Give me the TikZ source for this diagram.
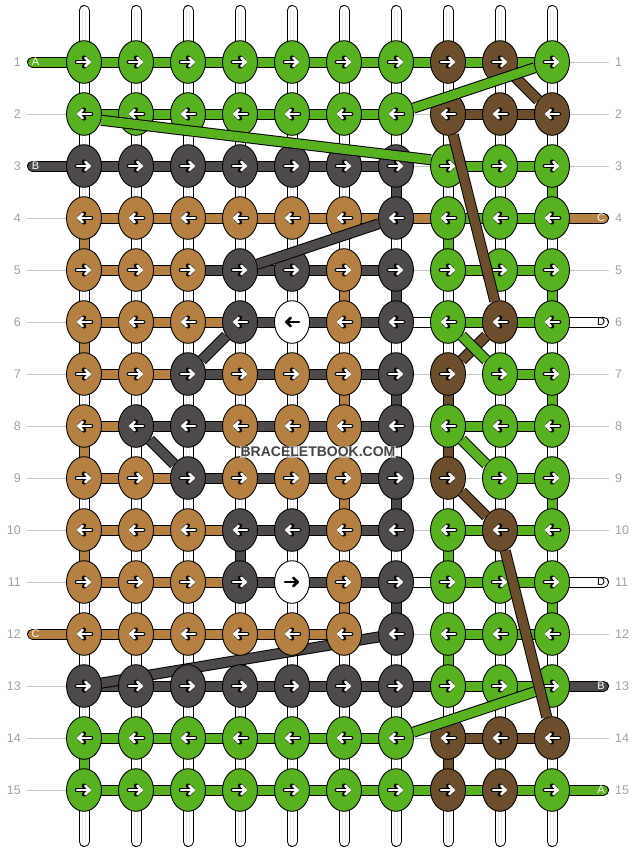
\documentclass[tikz,border=0pt]{standalone}
\usepackage{fontspec}
\setmainfont{Liberation Sans}
\usetikzlibrary{shapes.geometric,arrows.meta}

\definecolor{strG}{HTML}{58B11E}
\definecolor{strB}{HTML}{6C4E2C}
\definecolor{strT}{HTML}{B58142}
\definecolor{strD}{HTML}{4E4A49}
\definecolor{strW}{HTML}{FFFFFF}
\colorlet{arrG}{white}\colorlet{arrB}{white}\colorlet{arrT}{white}\colorlet{arrD}{white}\colorlet{arrW}{black}
\colorlet{rimG}{black}\colorlet{rimB}{black}\colorlet{rimT}{black}\colorlet{rimD}{black}\colorlet{rimW}{white}
\definecolor{guidegray}{HTML}{C4C4C4}
\definecolor{numgray}{HTML}{A0A0A0}
\definecolor{markgray}{HTML}{444444}

\begin{document}
\begin{tikzpicture}[x=1pt, y=-1pt,
  strand/.style={draw=black, line width=1pt, double=#1, double distance=9pt},
  tube/.style={strand=white, line cap=round},
  knot/.style={ellipse, draw, line width=0.9pt, minimum width=35pt, minimum height=42.6pt, inner sep=0pt},
  turn/.style={line cap=round, -{Straight Barb[length=4.5pt, width=8.5pt, round]}},
  guide/.style={draw=guidegray, line width=1pt},
  rownum/.style={text=numgray, inner sep=0pt, font=\fontsize{12.5}{13}\selectfont},
  endlabel/.style={inner sep=0pt, font=\fontsize{11}{11}\selectfont}]

\useasboundingbox (0,0) rectangle (636,852);

\foreach \r in {1,...,15} {
  \foreach \c in {1,...,10}
    \coordinate (p-\r-\c) at ({84+52*(\c-1)}, {62+52*(\r-1)});
  \coordinate (gl-\r) at (27, {62+52*(\r-1)});
  \coordinate (gr-\r) at (609, {62+52*(\r-1)});
  \draw[guide] (gl-\r) -- (gr-\r);
  \node[rownum, anchor=east] (nl-\r) at (21, {62+52*(\r-1)}) {\r};
  \node[rownum, anchor=west] (nr-\r) at (615, {62+52*(\r-1)}) {\r};
}

\foreach \c in {1,...,10} {
  \coordinate (t-\c) at ({84+52*(\c-1)}, 10.5);
  \coordinate (u-\c) at ({84+52*(\c-1)}, 841.5);
  \draw[tube] (t-\c) -- (u-\c);
  \draw[black!9, line width=0.8pt] ([xshift=-1.8]t-\c) -- ([xshift=-1.8]u-\c);
  \draw[black!9, line width=0.8pt] ([xshift=1.8]t-\c) -- ([xshift=1.8]u-\c);
}

\foreach \r/\bars in {
  1/{G,G,G,G,G,G,G,G,G},
  2/{G,G,G,G,G,G,N,B,B},
  3/{D,D,D,D,D,D,N,G,G},
  4/{T,T,T,T,T,T,T,G,G},
  5/{T,T,D,D,D,D,N,G,G},
  6/{T,T,T,D,D,D,W,G,G},
  7/{T,T,D,D,D,D,N,N,G},
  8/{T,D,D,D,D,D,N,G,G},
  9/{T,T,D,D,D,D,N,N,G},
  10/{T,T,T,D,D,D,N,G,G},
  11/{T,T,T,D,D,D,W,G,G},
  12/{T,T,T,T,T,N,N,G,G},
  13/{D,D,D,D,D,D,D,G,G},
  14/{G,G,G,G,G,G,N,B,B},
  15/{G,G,G,G,G,G,G,G,G}} {
  \foreach \s [count=\c] in \bars {
    \pgfmathtruncatemacro\d{\c+1}
    \if N\s\else\draw[strand=str\s] (p-\r-\c) -- (p-\r-\d);\fi
  }
}

\foreach \r/\c/\s in {3/7/D, 3/10/G, 4/1/T, 4/8/G, 5/6/T, 5/7/D, 5/10/G, 6/1/T,
    7/6/T, 7/7/D, 7/8/B, 7/10/G, 8/1/T, 8/8/B, 9/6/T, 9/7/D, 9/10/G, 10/1/T,
    10/4/D, 10/8/G, 11/6/T, 11/7/D, 11/10/G, 12/8/G, 14/1/G, 14/8/B} {
  \pgfmathtruncatemacro\q{\r+1}
  \draw[strand=str\s] (p-\r-\c) -- (p-\q-\c);
}

\foreach \r/\s/\lab/\lc in {1/G/A/white, 3/D/B/white, 12/T/C/white} {
  \coordinate (sl-\r) at (32.5, {62+52*(\r-1)});
  \draw[strand=str\s, line cap=round] (sl-\r) -- (p-\r-1);
  \node[endlabel, text=\lc] (el-\r) at (35.5, {62+52*(\r-1)}) {\lab};
}
\foreach \r/\s/\lab/\lc in {4/T/C/white, 6/W/D/black, 11/W/D/black, 13/D/B/white, 15/G/A/white} {
  \coordinate (sr-\r) at (603.5, {62+52*(\r-1)});
  \draw[strand=str\s, line cap=round] (p-\r-10) -- (sr-\r);
  \node[endlabel, text=\lc] (er-\r) at (601, {62+52*(\r-1)}) {\lab};
}

\draw[strand=strD] (p-12-7) -- (p-13-1);

\foreach \r/\knots in {
  1/{G,G,G,G,G,G,G,B,B,G},
  2/{G,G,G,G,G,G,G,B,B,B},
  3/{D,D,D,D,D,D,D,G,G,G},
  4/{T,T,T,T,T,T,D,G,G,G},
  5/{T,T,T,D,D,T,D,G,G,G},
  6/{T,T,T,D,W,T,D,G,B,G},
  7/{T,T,D,T,T,T,D,B,G,G},
  8/{T,D,D,T,T,T,D,G,G,G},
  9/{T,T,D,T,T,T,D,B,G,G},
  10/{T,T,T,D,D,T,D,G,B,G},
  11/{T,T,T,D,W,T,D,G,G,G},
  12/{T,T,T,T,T,T,D,G,G,G},
  13/{D,D,D,D,D,D,D,G,G,G},
  14/{G,G,G,G,G,G,G,B,B,B},
  15/{G,G,G,G,G,G,G,B,B,G}} {
  \foreach \k [count=\c] in \knots {
    \node[knot, fill=str\k] (k-\r-\c) at (p-\r-\c) {};
    \ifodd\r \def\xa{-7}\def\xb{7}\else\def\xa{7}\def\xb{-7}\fi
    \draw[turn, draw=rim\k, line width=4.6pt] ([xshift=\xa]k-\r-\c.center) -- ([xshift=\xb]k-\r-\c.center);
    \draw[turn, draw=arr\k, line width=2.6pt] ([xshift=\xa]k-\r-\c.center) -- ([xshift=\xb]k-\r-\c.center);
  }
}

\foreach \a/\b in {1-9/2-10, 2-8/6-9, 6-9/7-8, 9-8/10-9, 10-9/14-10}
  \draw[strand=strB] (k-\a) -- (k-\b);
\foreach \a/\b in {1-10/2-7, 6-8/7-9, 8-8/9-9, 13-10/14-7}
  \draw[strand=strG] (k-\a) -- (k-\b);
\draw[strand=strG] (k-2-1.-20) -- (k-3-8.160);
\foreach \a/\b in {4-7/5-4, 6-4/7-3, 8-2/9-3}
  \draw[strand=strD] (k-\a) -- (k-\b);

\node[fill=white, fill opacity=0.6, text opacity=1, text=markgray, inner sep=1pt,
  font=\bfseries\fontsize{14}{14}\selectfont] (mark) at (318,452) {BRACELETBOOK.COM};
\end{tikzpicture}
\end{document}
